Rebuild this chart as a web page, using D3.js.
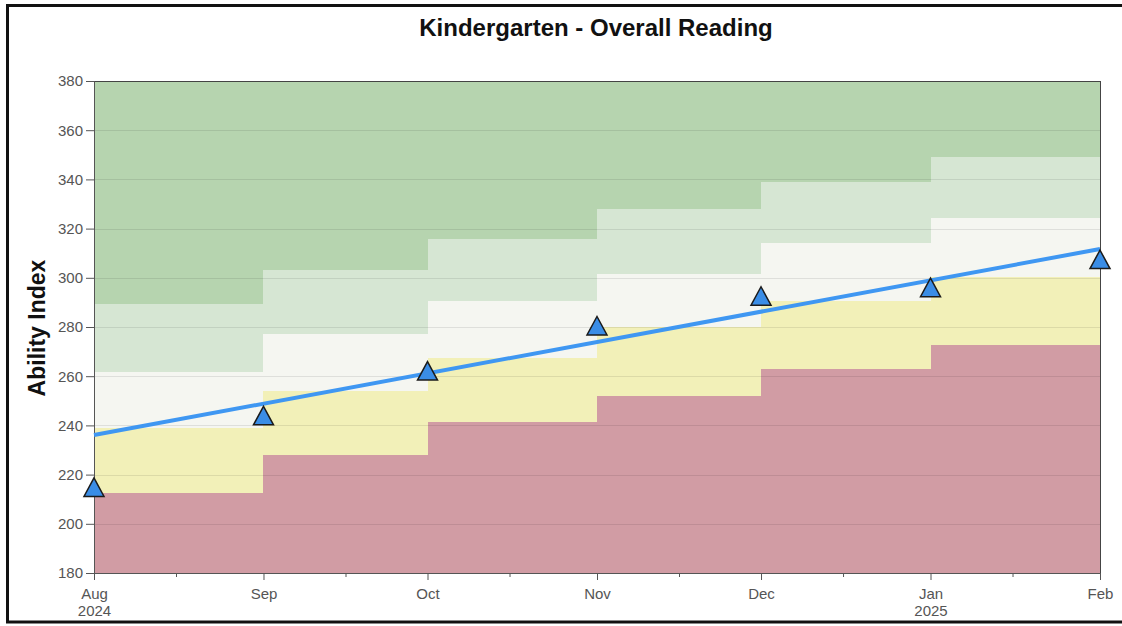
<!DOCTYPE html>
<html>
<head>
<meta charset="utf-8">
<title>Kindergarten - Overall Reading</title>
<script src="https://cdnjs.cloudflare.com/ajax/libs/d3/7.8.5/d3.min.js"></script>
<style>
    * { margin: 0; padding: 0; }
    body { background: #fff; font-family: "Liberation Sans", Arial, sans-serif; overflow: hidden; }
    svg { display: block; }
    .tick text { fill: #555; font-size: 15px; font-family: "Liberation Sans", Arial, sans-serif; }
</style>
</head>
<body>
<script>
    // month boundaries (band segments run from one month to the next)
    var months = ["2024-08-01", "2024-09-01", "2024-10-01", "2024-11-01", "2024-12-01", "2025-01-01", "2025-02-01"];
    var monthLabels = [["Aug", "2024"], ["Sep"], ["Oct"], ["Nov"], ["Dec"], ["Jan", "2025"], ["Feb"]];
    var minorTicks = ["2024-08-16", "2024-09-16", "2024-10-16", "2024-11-16", "2024-12-16", "2025-01-16"];
    var yTicks = [180, 200, 220, 240, 260, 280, 300, 320, 340, 360, 380];

    // band tops per monthly segment
    var redTop = [212.5, 227.8, 241.2, 252, 263, 272.7];
    var yellowTop = [238.8, 254, 267.3, 280.1, 290.7, 300.4];
    var whiteTop = [261.8, 277, 290.4, 301.4, 314, 324.2];
    var lightGreenTop = [289.5, 303.2, 315.8, 327.8, 339, 349];

    // student scores and the growth line
    var scores = [214.8, 243.9, 262.1, 280.4, 292.5, 296, 307.4];
    var trendDates = ["2024-08-01", "2025-02-01"];
    var trendValues = [236.1, 311.7];

    var parse = d3.timeParse("%Y-%m-%d");
    var W = 1122, H = 626;
    var margin = { top: 81, right: 22, bottom: 53, left: 94 },
        width = W - margin.left - margin.right,
        height = H - margin.top - margin.bottom;

    var svg = d3.select("body").append("svg")
        .attr("width", W)
        .attr("height", H);

    // outer frame (right side runs off the picture)
    svg.append("rect")
        .attr("x", 7.5).attr("y", 5.5)
        .attr("width", 1200).attr("height", 616.5)
        .attr("fill", "#fff")
        .attr("stroke", "#111")
        .attr("stroke-width", 3);

    var g = svg.append("g")
        .attr("transform", "translate(" + margin.left + "," + margin.top + ")");

    var x = d3.scaleTime()
        .domain([parse(months[0]), parse(months[months.length - 1])])
        .range([0, width]);

    var y = d3.scaleLinear()
        .domain([180, 380])
        .range([height, 0]);

    // bands
    var bands = [
        { lo: null, hi: redTop, color: "#d19ca4" },
        { lo: redTop, hi: yellowTop, color: "#f2f0b8" },
        { lo: yellowTop, hi: whiteTop, color: "#f5f6f1" },
        { lo: whiteTop, hi: lightGreenTop, color: "#d6e6d3" },
        { lo: lightGreenTop, hi: null, color: "#b6d4af" }
    ];

    bands.forEach(function(b) {
        g.selectAll(null)
            .data(d3.range(months.length - 1))
            .enter().append("rect")
            .attr("x", function(i) { return x(parse(months[i])); })
            .attr("width", function(i) { return x(parse(months[i + 1])) - x(parse(months[i])); })
            .attr("y", function(i) { return y(b.hi ? b.hi[i] : 380); })
            .attr("height", function(i) { return y(b.lo ? b.lo[i] : 180) - y(b.hi ? b.hi[i] : 380); })
            .attr("fill", b.color)
            .attr("shape-rendering", "crispEdges");
    });

    // gridlines
    g.selectAll(".grid")
        .data(yTicks.slice(1, -1))
        .enter().append("line")
        .attr("class", "grid")
        .attr("x1", 0).attr("x2", width)
        .attr("y1", function(d) { return Math.round(y(d)) + 0.5; })
        .attr("y2", function(d) { return Math.round(y(d)) + 0.5; })
        .attr("stroke", "rgba(0,0,0,0.09)")
        .attr("stroke-width", 1);

    // plot border
    g.append("rect")
        .attr("x", 0.5).attr("y", 0.5)
        .attr("width", width).attr("height", height)
        .attr("fill", "none")
        .attr("stroke", "#444")
        .attr("stroke-width", 1);

    // y axis
    var yAxis = g.append("g")
        .call(d3.axisLeft(y).tickValues(yTicks).tickSize(8).tickPadding(3));
    yAxis.select(".domain").attr("stroke", "#555");
    yAxis.selectAll(".tick line").attr("stroke", "#555");

    // x axis major
    var xAxis = g.append("g")
        .attr("transform", "translate(0," + height + ")")
        .call(d3.axisBottom(x).tickValues(months.map(parse)).tickSize(7).tickFormat(""));
    xAxis.select(".domain").attr("stroke", "#555");
    xAxis.selectAll(".tick line").attr("stroke", "#555");
    xAxis.selectAll(".tick").each(function(d, i) {
        var t = d3.select(this).append("text")
            .attr("y", 26)
            .attr("text-anchor", "middle");
        monthLabels[i].forEach(function(s, k) {
            t.append("tspan").attr("x", 0).attr("dy", k === 0 ? 0 : 17).text(s);
        });
    });

    // x axis minor
    var xMinor = g.append("g")
        .attr("transform", "translate(0," + height + ")")
        .call(d3.axisBottom(x).tickValues(minorTicks.map(parse)).tickSize(4).tickFormat(""));
    xMinor.select(".domain").remove();
    xMinor.selectAll(".tick line").attr("stroke", "#555");

    // growth line
    var line = d3.line()
        .x(function(d) { return x(parse(d[0])); })
        .y(function(d) { return y(d[1]); });
    g.append("path")
        .datum(d3.zip(trendDates, trendValues))
        .attr("d", line)
        .attr("fill", "none")
        .attr("stroke", "#3f97f2")
        .attr("stroke-width", 4);

    // markers
    g.selectAll(".marker")
        .data(d3.zip(months, scores))
        .enter().append("path")
        .attr("class", "marker")
        .attr("transform", function(d) { return "translate(" + x(parse(d[0])) + "," + y(d[1]) + ")"; })
        .attr("d", "M0,-9.5L10,9L-10,9Z")
        .attr("fill", "#3a8de6")
        .attr("stroke", "#1b1b1b")
        .attr("stroke-width", 1.5)
        .attr("stroke-linejoin", "miter");

    // title
    svg.append("text")
        .attr("x", 596)
        .attr("y", 36)
        .attr("text-anchor", "middle")
        .style("font-size", "24px")
        .style("font-weight", "bold")
        .style("fill", "#111")
        .text("Kindergarten - Overall Reading");

    // y label
    svg.append("text")
        .attr("transform", "translate(45,328) rotate(-90)")
        .attr("text-anchor", "middle")
        .style("font-size", "23px")
        .style("font-weight", "bold")
        .style("fill", "#111")
        .text("Ability Index");
</script>
</body>
</html>
